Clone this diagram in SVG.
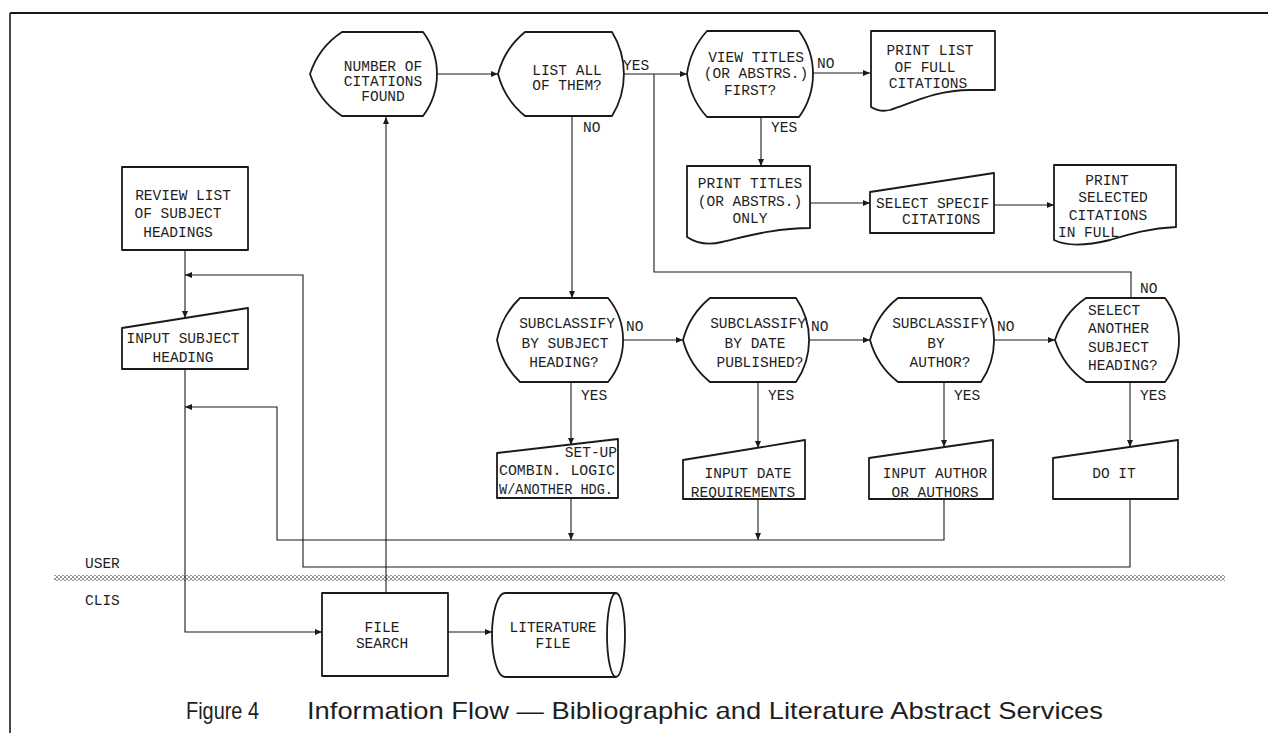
<svg xmlns="http://www.w3.org/2000/svg" width="1268" height="733" viewBox="0 0 1268 733">
<defs>
<marker id="ah" markerUnits="userSpaceOnUse" markerWidth="8" markerHeight="6" refX="7" refY="3" orient="auto"><path d="M0,0 L7,3 L0,6 Z" fill="#1a1a1a"/></marker>
<pattern id="hatch" width="4" height="4" patternUnits="userSpaceOnUse"><rect width="2" height="2" fill="#9a9a9a"/><rect x="2" y="2" width="2" height="2" fill="#9a9a9a"/></pattern>
<style>
.n{fill:#fff;stroke:#1a1a1a;stroke-width:1.8;stroke-linejoin:round}
.c{fill:none;stroke:#1a1a1a;stroke-width:1.1}
.a{marker-end:url(#ah)}
.t{font-family:"Liberation Mono","DejaVu Sans Mono",monospace;font-size:14.5px;fill:#1e1e1e}
.m{text-anchor:middle}
.cap{font-family:"Liberation Sans",Arial,sans-serif;font-size:24px;fill:#1e1e1e}
</style>
</defs>
<rect width="1268" height="733" fill="#fff"/>
<g id="frame">
<line x1="10" y1="13" x2="1268" y2="13" stroke="#1a1a1a" stroke-width="2"/>
<line x1="10" y1="13" x2="10" y2="733" stroke="#1a1a1a" stroke-width="1.6"/>
<rect x="54" y="575" width="1171" height="6" fill="url(#hatch)"/>
<text class="t" x="85" y="568">USER</text>
<text class="t" x="85" y="605">CLIS</text>
</g>
<g id="connectors">
<path class="c a" d="M437,74 H498"/>
<path class="c a" d="M624,74 H687"/>
<path class="c a" d="M813,73 H870"/>
<path class="c a" d="M761,117 V166"/>
<path class="c a" d="M810,203 H870"/>
<path class="c a" d="M994,205 H1054"/>
<path class="c a" d="M572,116 V298"/>
<path class="c" d="M1131,298 V272 H654 V74"/>
<path class="c a" d="M623,340 H683"/>
<path class="c a" d="M809,340 H870"/>
<path class="c a" d="M994,340 H1055"/>
<path class="c a" d="M571,382 V445"/>
<path class="c a" d="M758,382 V448"/>
<path class="c a" d="M944,382 V447"/>
<path class="c a" d="M1130,382 V447"/>
<path class="c a" d="M571,498 V540"/>
<path class="c a" d="M758,499 V540"/>
<path class="c a" d="M944,499 V540 H277 V407 H185"/>
<path class="c a" d="M1130,499 V567 H303 V275 H185"/>
<path class="c a" d="M185,250 V318"/>
<path class="c a" d="M185,369 V632 H322"/>
<path class="c a" d="M386,593 V117"/>
<path class="c a" d="M448,632 H492"/>
<text class="t" x="623" y="70">YES</text>
<text class="t" x="817" y="68">NO</text>
<text class="t" x="583" y="132">NO</text>
<text class="t" x="771" y="132">YES</text>
<text class="t" x="626" y="331">NO</text>
<text class="t" x="811" y="331">NO</text>
<text class="t" x="997" y="331">NO</text>
<text class="t" x="1140" y="293">NO</text>
<text class="t" x="581" y="400">YES</text>
<text class="t" x="768" y="400">YES</text>
<text class="t" x="954" y="400">YES</text>
<text class="t" x="1140" y="400">YES</text>
</g>
<g id="n-number">
<path class="n" d="M310,74 A80,80 0 0 1 342,32 H423 A70,70 0 0 1 423,116 H342 A80,80 0 0 1 310,74 Z"/>
<text class="t m" x="383" y="71">NUMBER OF</text>
<text class="t m" x="383" y="86">CITATIONS</text>
<text class="t m" x="383" y="101">FOUND</text>
</g>
<g id="n-listall">
<path class="n" d="M498,74 A80,80 0 0 1 525,32 H612 A80,80 0 0 1 612,116 H525 A80,80 0 0 1 498,74 Z"/>
<text class="t m" x="567" y="75">LIST ALL</text>
<text class="t m" x="567" y="90">OF THEM?</text>
</g>
<g id="n-viewtitles">
<path class="n" d="M687,74 A80,80 0 0 1 707,31 H799 A73,73 0 0 1 799,117 H707 A80,80 0 0 1 687,74 Z"/>
<text class="t m" x="756" y="62">VIEW TITLES</text>
<text class="t m" x="756" y="78">(OR ABSTRS.)</text>
<text class="t m" x="750" y="95">FIRST?</text>
</g>
<g id="n-printlist">
<path class="n" d="M871,31 H995 V90 H970 C935,90 910,104 890,110 C882,112 876,110 871,107 Z"/>
<text class="t m" x="930" y="55">PRINT LIST</text>
<text class="t m" x="925" y="72">OF FULL</text>
<text class="t m" x="928" y="88">CITATIONS</text>
</g>
<g id="n-printtitles">
<path class="n" d="M687,166 H810 V228 C775,228 748,236 722,242 C706,246 696,243 687,237 Z"/>
<text class="t m" x="750" y="188">PRINT TITLES</text>
<text class="t m" x="750" y="206">(OR ABSTRS.)</text>
<text class="t m" x="750" y="223">ONLY</text>
</g>
<g id="n-selectspecif">
<path class="n" d="M870,192 L994,173 L994,233 L870,233 Z"/>
<text class="t" x="876" y="208">SELECT SPECIF</text>
<text class="t" x="902" y="224">CITATIONS</text>
</g>
<g id="n-printselected">
<path class="n" d="M1054,165 H1176 V227 C1150,228 1130,234 1110,240 C1085,246 1066,246 1054,240 Z"/>
<text class="t m" x="1107" y="185">PRINT</text>
<text class="t m" x="1113" y="202">SELECTED</text>
<text class="t m" x="1108" y="220">CITATIONS</text>
<text class="t" x="1058" y="237">IN FULL</text>
</g>
<g id="n-review">
<rect class="n" x="122" y="167" width="126" height="83"/>
<text class="t m" x="183" y="200">REVIEW LIST</text>
<text class="t m" x="178" y="218">OF SUBJECT</text>
<text class="t m" x="178" y="237">HEADINGS</text>
</g>
<g id="n-inputsubject">
<path class="n" d="M122,328 L248,308 L248,369 L122,369 Z"/>
<text class="t m" x="183" y="343">INPUT SUBJECT</text>
<text class="t m" x="183" y="362">HEADING</text>
</g>
<g id="n-sub1">
<path class="n" d="M497,340 A80,80 0 0 1 520,298 H608 A66,66 0 0 1 608,382 H520 A80,80 0 0 1 497,340 Z"/>
<text class="t m" x="567" y="328">SUBCLASSIFY</text>
<text class="t m" x="565" y="348">BY SUBJECT</text>
<text class="t m" x="564" y="367">HEADING?</text>
</g>
<g id="n-sub2">
<path class="n" d="M683,340 A80,80 0 0 1 710,298 H796 A74,74 0 0 1 796,382 H710 A80,80 0 0 1 683,340 Z"/>
<text class="t m" x="758" y="328">SUBCLASSIFY</text>
<text class="t m" x="755" y="348">BY DATE</text>
<text class="t m" x="760" y="367">PUBLISHED?</text>
</g>
<g id="n-sub3">
<path class="n" d="M870,340 A80,80 0 0 1 898,298 H981 A74,74 0 0 1 981,382 H898 A80,80 0 0 1 870,340 Z"/>
<text class="t m" x="940" y="328">SUBCLASSIFY</text>
<text class="t m" x="936" y="348">BY</text>
<text class="t m" x="940" y="367">AUTHOR?</text>
</g>
<g id="n-selectanother">
<path class="n" d="M1055,340 A80,80 0 0 1 1086,298 H1165 A70,70 0 0 1 1165,382 H1086 A80,80 0 0 1 1055,340 Z"/>
<text class="t" x="1088" y="315">SELECT</text>
<text class="t" x="1088" y="333">ANOTHER</text>
<text class="t" x="1088" y="352">SUBJECT</text>
<text class="t" x="1088" y="370">HEADING?</text>
</g>
<g id="n-setup">
<path class="n" d="M497,453 L618,439 L618,498 L497,498 Z"/>
<text class="t" x="617" y="457" text-anchor="end">SET-UP</text>
<text class="t" x="499" y="475" textLength="116" lengthAdjust="spacingAndGlyphs">COMBIN. LOGIC</text>
<text class="t" x="499" y="494" textLength="114" lengthAdjust="spacingAndGlyphs">W/ANOTHER HDG.</text>
</g>
<g id="n-inputdate">
<path class="n" d="M683,460 L805,440 L805,499 L683,499 Z"/>
<text class="t m" x="748" y="478">INPUT DATE</text>
<text class="t m" x="743" y="497">REQUIREMENTS</text>
</g>
<g id="n-inputauthor">
<path class="n" d="M869,458 L993,440 L993,499 L869,499 Z"/>
<text class="t m" x="935" y="478">INPUT AUTHOR</text>
<text class="t m" x="935" y="497">OR AUTHORS</text>
</g>
<g id="n-doit">
<path class="n" d="M1053,458 L1178,440 L1178,499 L1053,499 Z"/>
<text class="t m" x="1114" y="478">DO IT</text>
</g>
<g id="n-filesearch">
<rect class="n" x="322" y="593" width="126" height="83"/>
<text class="t m" x="382" y="632">FILE</text>
<text class="t m" x="382" y="648">SEARCH</text>
</g>
<g id="n-literature">
<path class="n" d="M505,593 H616 A9,42 0 0 1 616,677 H505 A13,42 0 0 1 505,593 Z"/>
<path class="n" d="M616,593 A9,42 0 0 0 616,677" fill="none"/>
<text class="t m" x="553" y="632">LITERATURE</text>
<text class="t m" x="553" y="648">FILE</text>
</g>
<g id="caption">
<text class="cap" x="186" y="719" textLength="73" lengthAdjust="spacingAndGlyphs">Figure 4</text>
<text class="cap" x="307" y="719" textLength="796" lengthAdjust="spacingAndGlyphs">Information Flow — Bibliographic and Literature Abstract Services</text>
</g>
</svg>
